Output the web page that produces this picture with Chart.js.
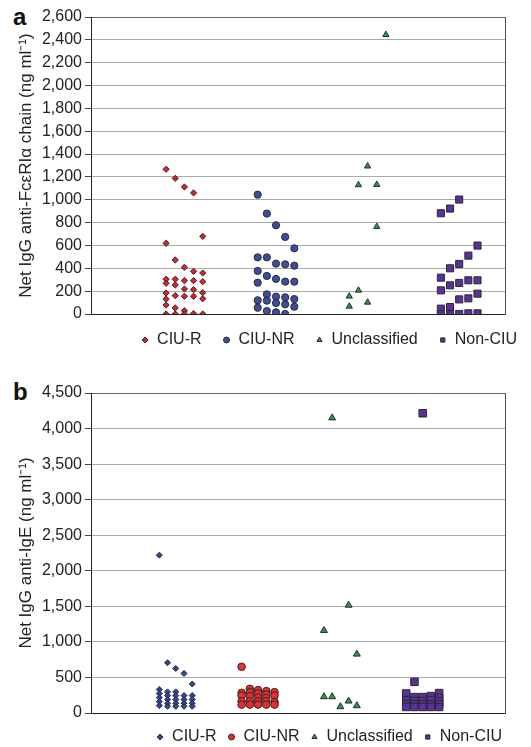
<!DOCTYPE html>
<html>
<head>
<meta charset="utf-8">
<script src="https://cdn.jsdelivr.net/npm/chart.js@4/dist/chart.umd.min.js"></script>
<style>
  html, body { margin: 0; padding: 0; background: #fff; overflow: hidden; }
  body { width: 531px; height: 747px; position: relative; font-family: "Liberation Sans", Arial, sans-serif; }
  canvas { position: absolute; left: 0; }
  .letter { position: absolute; left: 13px; font-weight: bold; font-size: 24px; line-height: 24px; color: #111; }
</style>
</head>
<body>
<div class="letter" style="top:5px">a</div>
<canvas id="chartA" width="538" height="361" style="top:0"></canvas>
<div class="letter" style="top:380px">b</div>
<canvas id="chartB" width="531" height="385" style="top:370px"></canvas>
<script>
  // Groups on the x axis
  const groups = ['CIU-R', 'CIU-NR', 'Unclassified', 'Non-CIU'];

  // Panel a - each inner array is one column of the dot cluster
  const aCiuR = [
    [1267, 619, 304, 269, 184, 131, 79, 0],
    [1188, 473, 304, 254, 161, 53, 0],
    [1112, 409, 292, 219, 155, 29, 0],
    [1060, 374, 292, 213, 155, 3],
    [680, 359, 283, 187, 134, 0]
  ];
  const aCiuNR = [
    [1045, 496, 377, 274, 120, 55],
    [879, 496, 333, 172, 117, 26],
    [777, 441, 307, 152, 96, 15],
    [675, 435, 283, 146, 85, 0],
    [575, 423, 283, 131, 64]
  ];
  const aUnclass = [
    [155, 67],
    [1130, 207],
    [1294, 102],
    [1133, 765],
    [2445]
  ];
  const aNonCiu = [
    [882, 318, 207, 47, 0],
    [923, 400, 251, 61, 0],
    [1002, 438, 272, 128, 0],
    [511, 295, 137, 6],
    [599, 295, 178, 6]
  ];

  // Panel b
  const bCiuR = [
    [2220, 330, 274, 217, 160, 104],
    [707, 297, 245, 189, 137, 94],
    [627, 297, 245, 189, 137, 94],
    [557, 245, 189, 137, 94],
    [407, 245, 189, 137, 94]
  ];
  const bCiuNR = [
    [650, 283, 245, 165, 118],
    [340, 293, 236, 165, 118],
    [321, 274, 217, 165, 118],
    [307, 260, 212, 165, 118],
    [293, 245, 156, 118]
  ];
  const bUnclass = [
    [1161, 229],
    [4150, 229],
    [89],
    [1516, 168],
    [828, 103]
  ];
  const bNonCiu = [
    [275, 180, 125, 85],
    [439, 224, 168, 125, 85],
    [4215, 224, 168, 125, 85],
    [238, 182, 125, 85],
    [280, 215, 168, 125, 85]
  ];

  const font = '"Liberation Sans", Arial, sans-serif';
  Chart.defaults.font.family = font;
  Chart.defaults.color = '#222';

  // spread the columns of a group around its centre
  function toPoints(cols, group) {
    const pts = [];
    cols.forEach((col, j) => {
      col.forEach(v => pts.push({ x: group + (j - 2) * 0.1, y: v }));
    });
    return pts;
  }

  function ds(label, cols, group, style, fill, radius) {
    return {
      label: label,
      data: toPoints(cols, group),
      pointStyle: style,
      backgroundColor: fill,
      borderColor: '#2a2a2a',
      borderWidth: 1,
      pointRadius: radius,
      pointHoverRadius: radius
    };
  }

  function makeChart(id, cfg) {
    return new Chart(document.getElementById(id), {
      type: 'scatter',
      data: { datasets: cfg.datasets },
      options: {
        responsive: false,
        animation: false,
        events: [],
        layout: { padding: { top: cfg.padTop, left: 8, right: cfg.padRight, bottom: 0 } },
        scales: {
          x: {
            type: 'linear',
            min: cfg.xMin,
            max: cfg.xMax,
            grid: { display: false },
            ticks: { display: false },
            border: { display: true, color: '#222', width: 1 },
            afterFit: s => { s.height = cfg.xHeight; }
          },
          y: {
            min: 0,
            max: cfg.yMax,
            ticks: {
              stepSize: cfg.step,
              padding: 3,
              color: '#222',
              font: { size: 16 },
              callback: v => v.toLocaleString('en-US')
            },
            grid: {
              color: c => (c.tick && c.tick.value === cfg.yMax) ? '#666' : '#aaaaaa',
              tickColor: '#444',
              tickLength: 6,
              lineWidth: 1
            },
            border: { display: true, color: '#222', width: 1 },
            title: {
              display: true,
              text: cfg.yTitle,
              color: '#222',
              font: { size: 17 },
              padding: { top: 8, bottom: 0 }
            },
            afterFit: s => { s.width = 83; }
          },
          y2: {
            type: 'linear',
            position: 'right',
            grid: { display: false },
            ticks: { display: false },
            border: { display: true, color: '#555', width: 1 },
            afterFit: s => { s.width = cfg.rightWidth; }
          }
        },
        plugins: {
          tooltip: { enabled: false },
          legend: {
            position: 'bottom',
            align: 'end',
            labels: {
              usePointStyle: true,
              boxWidth: 8,
              boxHeight: 4.2,
              padding: cfg.legendPad,
              color: '#222',
              font: { size: 16 }
            }
          }
        }
      }
    });
  }

  makeChart('chartA', {
    datasets: [
      ds(groups[0], aCiuR, 1, 'rectRot', '#e41e26', 3.1),
      ds(groups[1], aCiuNR, 2, 'circle', '#3b4ea3', 3.6),
      ds(groups[2], aUnclass, 3, 'triangle', '#1fa046', 3.6),
      ds(groups[3], aNonCiu, 4, 'rect', '#5b2fa0', 5)
    ],
    xMin: -0.02, xMax: 4.5,
    yMax: 2600, step: 200,
    yTitle: 'Net IgG anti-FcεRIα chain (ng ml⁻¹)',
    padTop: 17, padRight: 0, rightWidth: 33,
    xHeight: -3, legendPad: 21
  });

  makeChart('chartB', {
    datasets: [
      ds(groups[0], bCiuR, 1, 'rectRot', '#2e47a0', 3),
      ds(groups[1], bCiuNR, 2, 'circle', '#ee2a2a', 3.8),
      ds(groups[2], bUnclass, 3, 'triangle', '#1fa046', 4),
      ds(groups[3], bNonCiu, 4, 'rect', '#5b2fa0', 5.3)
    ],
    xMin: -0.03, xMax: 5.0,
    yMax: 4500, step: 500,
    yTitle: 'Net IgG anti-IgE (ng ml⁻¹)',
    padTop: 23, padRight: 18, rightWidth: 8,
    xHeight: 5, legendPad: 11
  });
</script>
</body>
</html>
